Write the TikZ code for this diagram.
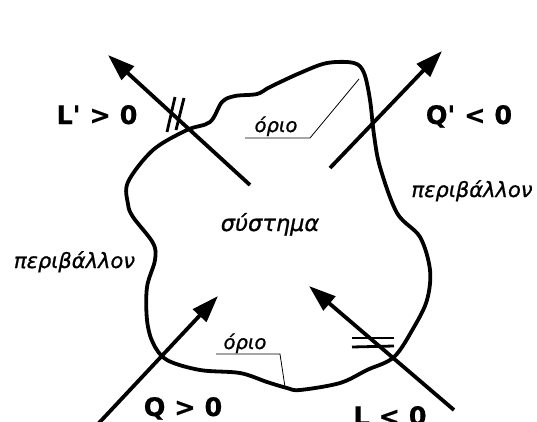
\documentclass[tikz,border=0pt]{standalone}
\usepackage{fontspec}
\usetikzlibrary{arrows.meta}
\newfontfamily\lblfont{DejaVu Sans Bold}[FakeBold=0.6]
\newfontfamily\grfont{DejaVu Sans Oblique}[FakeBold=0.9]
\tikzset{
  boundary/.style={line width=3.8pt, line join=round},
  flow/.style={line width=3.8pt, -{Triangle[length=27pt, width=18pt]}},
  tick/.style={line width=2.8pt},
  leader/.style={line width=0.8pt},
  sign/.style={font=\lblfont\fontsize{25.5}{25.5}\selectfont, inner sep=0pt},
  greek/.style={font=\grfont\fontsize{21}{21}\selectfont, inner sep=0pt},
}
\begin{document}
\begin{tikzpicture}[x=1pt, y=-1pt]
\useasboundingbox (0,0) rectangle (537,421);
\fill[white] (0,0) rectangle (537,421);
% system boundary
\draw[boundary] plot[smooth cycle, tension=0.55] coordinates {
 (128,182) (153,150) (187,130) (210,122) (222,102) (235,96) (257,94) (270,87)
 (300,73) (327,63) (354,63) (364,73) (370,100) (374,135) (380,167) (397,213)
 (420,237) (430,270) (427,300) (414,327) (394,357) (367,370) (340,383) (300,390)
 (287,388) (267,382) (240,373) (200,370) (167,360) (153,343) (147,320) (147,287)
 (155,260) (153,243) (133,217) (128,204)};
% arrow end points
\coordinate (l1s) at (250,185); \coordinate (l1e) at (108,55);
\coordinate (q1s) at (330,168); \coordinate (q1e) at (442,51);
\coordinate (q2s) at (98,424);  \coordinate (q2e) at (218,296);
\coordinate (l2s) at (454,410); \coordinate (l2e) at (309,286);
\draw[flow] (l1s) -- (l1e);
\draw[flow] (q1s) -- (q1e);
\draw[flow] (q2s) -- (q2e);
\draw[flow] (l2s) -- (l2e);
% tick marks
\coordinate (t1a) at (175,97); \coordinate (t1b) at (167,132);
\coordinate (t2a) at (184,98); \coordinate (t2b) at (176,130);
\draw[tick] (t1a) -- (t1b);
\draw[tick] (t2a) -- (t2b);
\coordinate (t3a) at (352,338); \coordinate (t3b) at (394,338);
\coordinate (t4a) at (352,347); \coordinate (t4b) at (394,346);
\draw[tick] (t3a) -- (t3b);
\draw[tick] (t4a) -- (t4b);
% labels
\node[sign, anchor=base] (lp) at (97,124) {L' > 0};
\node[sign, anchor=base] (qp) at (469,124) {Q' < 0};
\node[sign, anchor=base] (q) at (183,416) {Q > 0};
\node[sign, anchor=base] (l) at (390,425) {L < 0};
\node[greek, anchor=base] (env1) at (74.5,268) {περιβάλλον};
\node[greek, anchor=base] (env2) at (472,197) {περιβάλλον};
\node[greek, anchor=base, font=\grfont\fontsize{22.5}{22.5}\selectfont] (sys) at (270,231) {σύστημα};
\node[greek, anchor=base, font=\grfont\fontsize{19.5}{19.5}\selectfont] (b1) at (276,132) {όριο};
\node[greek, anchor=base, font=\grfont\fontsize{19.5}{19.5}\selectfont] (b2) at (245,349) {όριο};
% leader lines
\coordinate (u1a) at (245,138); \coordinate (u1b) at (310,138); \coordinate (u1c) at (359,79);
\coordinate (u2a) at (216,354); \coordinate (u2b) at (280,354); \coordinate (u2c) at (285,387);
\draw[leader] (u1a) -- (u1b) -- (u1c);
\draw[leader] (u2a) -- (u2b) -- (u2c);
\end{tikzpicture}
\end{document}
